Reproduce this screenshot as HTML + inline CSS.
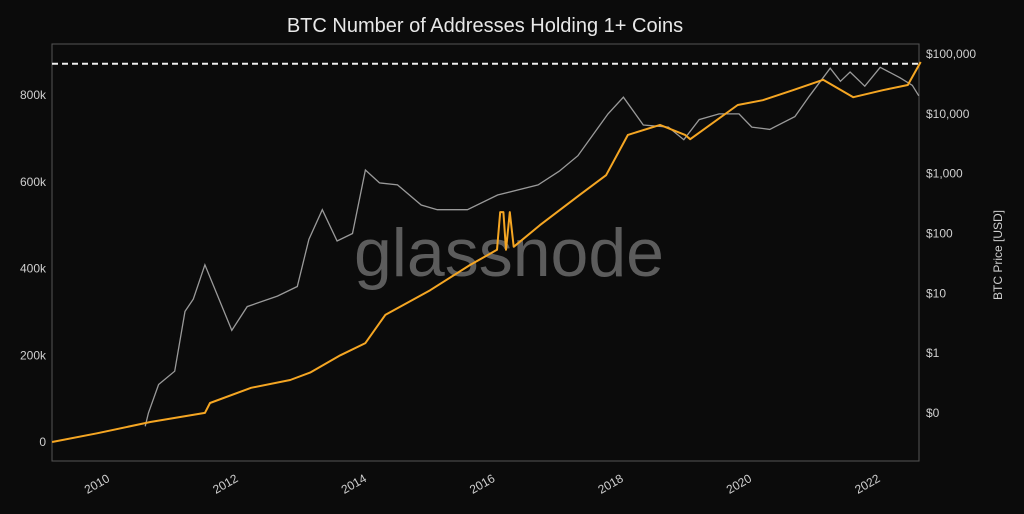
<!DOCTYPE html>
<html><head><meta charset="utf-8"><style>
html,body{margin:0;padding:0;background:#0b0b0b;}
svg{display:block;font-family:"Liberation Sans",sans-serif;}
</style></head><body>
<svg id="chart" width="1024" height="514" viewBox="0 0 1024 514">
<rect x="0" y="0" width="1024" height="514" fill="#0b0b0b"/>
<text x="485" y="32" text-anchor="middle" fill="#e8e8e8" font-size="20">BTC Number of Addresses Holding 1+ Coins</text>
<text x="509" y="276" text-anchor="middle" fill="#5c5c5c" font-size="68">glassnode</text>
<rect x="52" y="44" width="867" height="417" fill="none" stroke="#555" stroke-width="1"/>
<g id="axes"></g>
<g id="series"></g>
<text transform="translate(1002,255) rotate(-90)" text-anchor="middle" fill="#cfcfcf" font-size="12">BTC Price [USD]</text>
</svg>
<script>
const yearTicks = [2010, 2012, 2014, 2016, 2018, 2020, 2022];
const addrTicks = [0, 200000, 400000, 600000, 800000];
const addrTickLabels = ["0", "200k", "400k", "600k", "800k"];
const priceTicks = [0.1, 1, 10, 100, 1000, 10000, 100000];
const priceTickLabels = ["$0", "$1", "$10", "$100", "$1,000", "$10,000", "$100,000"];
const athLevel = 872000;

const addrDates = [2009.3,2010.0,2010.83,2011.68,2011.76,2012.4,2013.01,2013.32,2013.79,2014.18,2014.49,2015.19,2015.81,2016.23,2016.28,2016.33,2016.37,2016.43,2016.49,2016.9,2017.52,2017.93,2018.27,2018.77,2019.16,2019.24,2019.98,2020.37,2020.84,2021.31,2021.78,2022.24,2022.63,2022.83];
const addrValues = [0,20000,46000,67000,90000,125000,143000,160000,200000,228000,293000,350000,408000,443000,530000,530000,443000,530000,450000,500000,570000,615000,708000,731000,708000,698000,777000,788000,811000,835000,795000,811000,823000,876000];

const priceDates = [2010.75,2010.8,2010.96,2011.21,2011.37,2011.5,2011.68,2011.9,2012.1,2012.34,2012.81,2013.12,2013.3,2013.51,2013.74,2013.98,2014.18,2014.4,2014.68,2015.05,2015.3,2015.77,2016.24,2016.87,2017.2,2017.49,2017.96,2018.2,2018.51,2018.9,2019.14,2019.38,2019.69,2020.0,2020.2,2020.48,2020.87,2021.1,2021.42,2021.58,2021.73,2021.96,2022.2,2022.51,2022.7,2022.8];
const priceValues = [0.06,0.1,0.3,0.5,5,8,30,8,2.4,6,9,13,80,250,75,100,1150,700,650,300,250,250,440,650,1100,2000,10000,19000,6500,6000,3700,8000,10000,10000,6000,5500,9000,20000,58000,35000,50000,29000,60000,40000,30000,20000];

const X0=52,X1=919,PT=44,PB=461;
function xScale(t){return 97+(t-2010)*64.2;}
function yAddr(v){return 442-v/800000*347;}
function yPrice(v){return 413-(Math.log10(v)+1)*59.83;}
const NS="http://www.w3.org/2000/svg";
const axes=document.getElementById('axes'), series=document.getElementById('series');
function mk(tag,attrs,parent){const e=document.createElementNS(NS,tag);for(const k in attrs)e.setAttribute(k,attrs[k]);parent.appendChild(e);return e;}

yearTicks.forEach((yr,i)=>{
  const x=xScale(yr);
  const t=mk('text',{x:x,y:488,'text-anchor':'middle',fill:'#cfcfcf','font-size':12,transform:`rotate(-30 ${x} 484)`},axes);
  
  
  t.textContent=yr;
});
addrTicks.forEach((v,i)=>{
  const t=mk('text',{x:46,y:yAddr(v)+4,'text-anchor':'end',fill:'#cfcfcf','font-size':12},axes);
  
  
  t.textContent=addrTickLabels[i];
});
priceTicks.forEach((v,i)=>{
  const t=mk('text',{x:926,y:yPrice(v)+4,'text-anchor':'start',fill:'#cfcfcf','font-size':12},axes);
  
  
  t.textContent=priceTickLabels[i];
});

const ath=mk('line',{x1:X0,x2:X1,y1:yAddr(athLevel),y2:yAddr(athLevel),stroke:'#eee','stroke-width':2,'stroke-dasharray':'6,4'},series);



const pp=priceDates.map((d,i)=>xScale(d).toFixed(1)+','+yPrice(priceValues[i]).toFixed(1)).join(' ');
const pl=mk('polyline',{points:pp,fill:'none',stroke:'#9a9a9a','stroke-width':1.3},series);



const ap=addrDates.map((d,i)=>xScale(d).toFixed(1)+','+yAddr(addrValues[i]).toFixed(1)).join(' ');
const al=mk('polyline',{points:ap,fill:'none',stroke:'#f5a623','stroke-width':2,'stroke-linejoin':'round'},series);


</script>
</body></html>
